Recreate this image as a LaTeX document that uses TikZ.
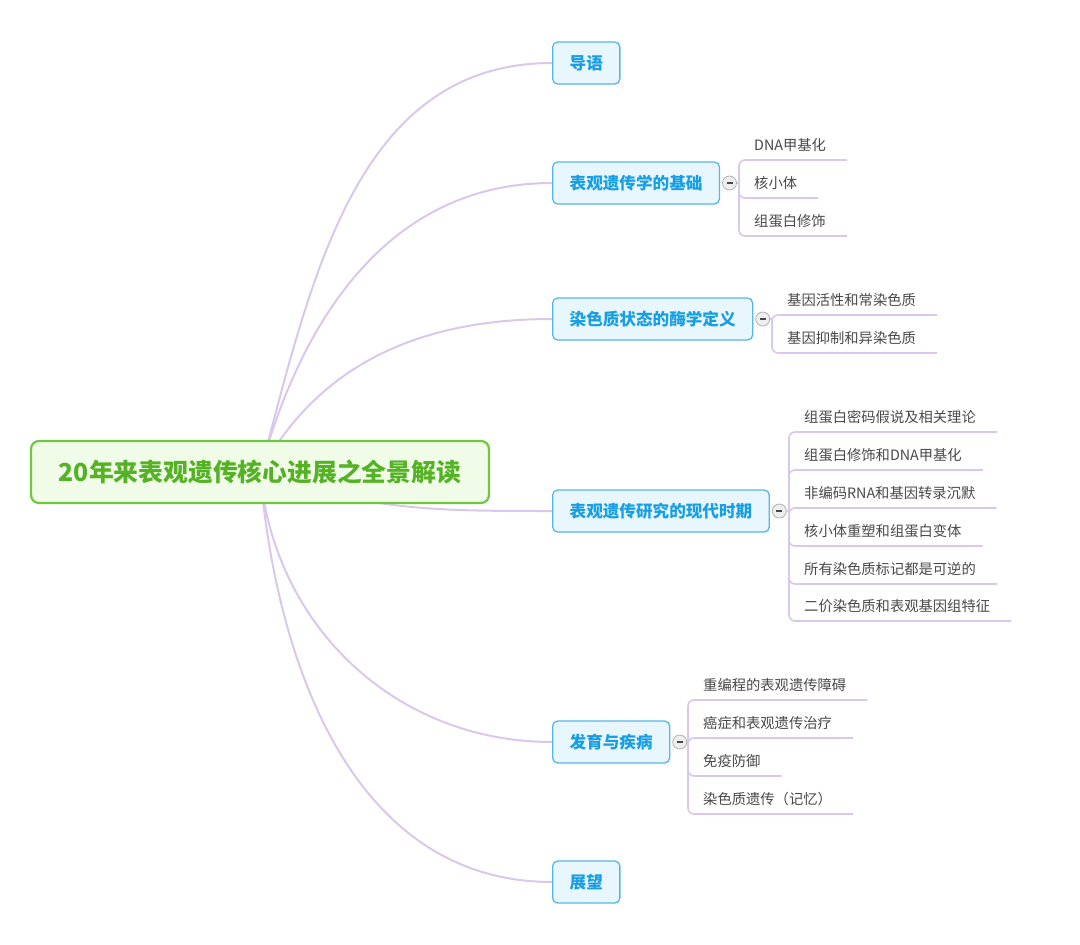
\documentclass[tikz,border=0pt]{standalone}
\usepackage{fontspec}
\setmainfont{Noto Sans CJK SC}
\usetikzlibrary{positioning, backgrounds}
\definecolor{rootcol}{RGB}{240, 252, 232}
\definecolor{rootline}{RGB}{112, 200, 64}
\definecolor{roottext}{RGB}{84, 178, 36}
\definecolor{topcol}{RGB}{232, 246, 253}
\definecolor{topline}{RGB}{86, 182, 236}
\definecolor{toptext}{RGB}{24, 158, 226}
\definecolor{leaftext}{RGB}{72, 72, 72}
\definecolor{wirecol}{RGB}{218, 200, 236}
\definecolor{togcol}{RGB}{238, 238, 238}
\definecolor{togline}{RGB}{178, 178, 178}

\begin{document}
\begin{tikzpicture}[
    x=1pt, y=-1pt,
    rootbox/.style={draw=rootline, line width=2.2pt, fill=rootcol, rounded corners=8pt,
        minimum width=458pt, minimum height=62pt, text=roottext,
        font=\fontsize{24.8}{30}\selectfont\bfseries},
    topicbox/.style={draw=topline, line width=1.3pt, fill=topcol, rounded corners=5pt,
        anchor=west, minimum height=42pt, inner xsep=17pt, text=toptext,
        font=\fontsize{16.6}{20}\selectfont\bfseries},
    leaf/.style={anchor=south west, inner xsep=0pt, inner ysep=0pt, text depth=9.5pt,
        text=leaftext, font=\fontsize{14.3}{17}\selectfont,
        execute at begin node={\hspace*{15pt}}, execute at end node={\hspace*{21pt}}},
    toggle/.style={circle, draw=togline, line width=0.8pt, fill=togcol, minimum size=14pt,
        inner sep=0pt, path picture={\draw[line width=1.2pt, leaftext]
        ([xshift=-3pt]path picture bounding box.center) -- ([xshift=3pt]path picture bounding box.center);}},
    branch/.style={draw=wirecol, line width=2pt},
    leafwire/.style={draw=wirecol, line width=1.6pt, rounded corners=6pt}
]
\useasboundingbox (0,0) rectangle (1080,945);

% Central topic
\node[rootbox] (root) at (260,472) {20年来表观遗传核心进展之全景解读};

% Main topics
\node[topicbox] (intro)  at (552,63)  {导语};
\node[topicbox] (basis)  at (552,183) {表观遗传学的基础};
\node[topicbox] (enzyme) at (552,319) {染色质状态的酶学定义};
\node[topicbox] (modern) at (552,511) {表观遗传研究的现代时期};
\node[topicbox] (devdis) at (552,742) {发育与疾病};
\node[topicbox] (future) at (552,882) {展望};

% Collapse toggles
\node[toggle, right=2pt of basis]  (tgbasis)  {};
\node[toggle, right=2pt of enzyme] (tgenzyme) {};
\node[toggle, right=2pt of modern] (tgmodern) {};
\node[toggle, right=2pt of devdis] (tgdevdis) {};

% Subtopics
\node[leaf] (basis1) at (739,160) {DNA甲基化};
\node[leaf] (basis2) at (739,198) {核小体};
\node[leaf] (basis3) at (739,236) {组蛋白修饰};

\node[leaf] (enzyme1) at (772,315) {基因活性和常染色质};
\node[leaf] (enzyme2) at (772,353) {基因抑制和异染色质};

\node[leaf] (modern1) at (789,432) {组蛋白密码假说及相关理论};
\node[leaf] (modern2) at (789,470) {组蛋白修饰和DNA甲基化};
\node[leaf] (modern3) at (789,508) {非编码RNA和基因转录沉默};
\node[leaf] (modern4) at (789,546) {核小体重塑和组蛋白变体};
\node[leaf] (modern5) at (789,584) {所有染色质标记都是可逆的};
\node[leaf] (modern6) at (789,621) {二价染色质和表观基因组特征};

\node[leaf] (devdis1) at (688,700) {重编程的表观遗传障碍};
\node[leaf] (devdis2) at (688,738) {癌症和表观遗传治疗};
\node[leaf] (devdis3) at (688,776) {免疫防御};
\node[leaf] (devdis4) at (688,814) {染色质遗传（记忆）};

\begin{scope}[on background layer]
% Curved branches from the centre
\draw[branch] (root.center) .. controls +(51,-190) and +(-197,0) .. (intro.west);
\draw[branch] (root.center) .. controls +(42,-156) and +(-161,0) .. (basis.west);
\draw[branch] (root.center) .. controls +(60,-110) and +(-129,0) .. (enzyme.west);
\draw[branch] (root.center) .. controls +(108,39) and +(-115,0) .. (modern.west);
\draw[branch] (root.center) .. controls +(14,155) and +(-156,0) .. (devdis.west);
\draw[branch] (root.center) .. controls +(17,196) and +(-197,0) .. (future.west);

% Elbow wires to the subtopics
\draw[leafwire] (tgbasis.east) -- (tgbasis.east -| basis1.south west);
\foreach \l in {basis1, basis2, basis3}
    \draw[leafwire] (tgbasis.east -| \l.south west) |- (\l.south east);
\draw[leafwire] (tgenzyme.east) -- (tgenzyme.east -| enzyme1.south west);
\foreach \l in {enzyme1, enzyme2}
    \draw[leafwire] (tgenzyme.east -| \l.south west) |- (\l.south east);
\draw[leafwire] (tgmodern.east) -- (tgmodern.east -| modern1.south west);
\foreach \l in {modern1, modern2, modern3, modern4, modern5, modern6}
    \draw[leafwire] (tgmodern.east -| \l.south west) |- (\l.south east);
\draw[leafwire] (tgdevdis.east) -- (tgdevdis.east -| devdis1.south west);
\foreach \l in {devdis1, devdis2, devdis3, devdis4}
    \draw[leafwire] (tgdevdis.east -| \l.south west) |- (\l.south east);
\end{scope}

\end{tikzpicture}
\end{document}
